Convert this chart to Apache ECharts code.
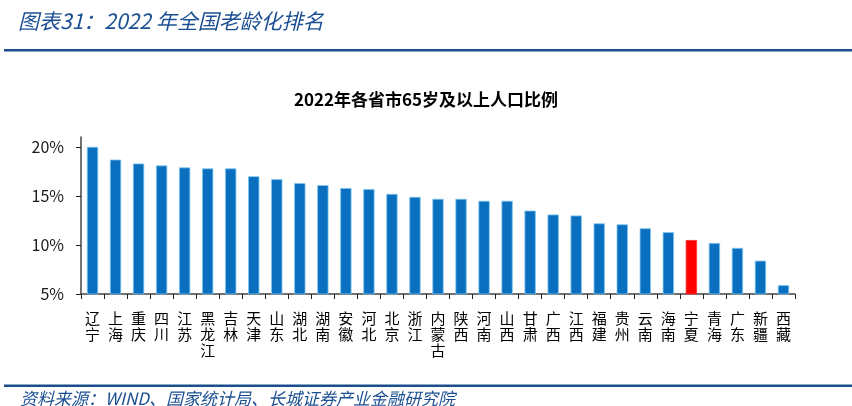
<!DOCTYPE html>
<html>
<head>
<meta charset="utf-8">
<script src="https://cdn.jsdelivr.net/npm/echarts@6/dist/echarts.min.js"></script>
<style>
html,body{margin:0;padding:0;background:#fff;}
#c{width:852px;height:406px;}
</style>
</head>
<body>
<div id="c"></div>
<script>
const provinces = ['辽宁','上海','重庆','四川','江苏','黑龙江','吉林','天津','山东','湖北','湖南','安徽','河北','北京','浙江','内蒙古','陕西','河南','山西','甘肃','广西','江西','福建','贵州','云南','海南','宁夏','青海','广东','新疆','西藏'];
const share65 = [20.0,18.7,18.3,18.1,17.9,17.8,17.8,17.0,16.7,16.3,16.1,15.8,15.7,15.2,14.9,14.7,14.7,14.5,14.5,13.5,13.1,13.0,12.2,12.1,11.7,11.3,10.5,10.2,9.7,8.4,5.9];
const highlight = '宁夏';
const yTicks = [5,10,15,20];

const FONT = "'Noto Sans CJK SC','Microsoft YaHei',sans-serif";
const BLUE = '#0a6fbf';
const chart = echarts.init(document.getElementById('c'));
chart.setOption({
  animation: false,
  backgroundColor: '#fff',
  title: [
    {text: '图表31：2022 年全国老龄化排名', left: 13, top: 6,
     textStyle: {fontFamily: FONT, fontSize: 21, fontWeight: 'normal', fontStyle: 'italic', color: '#1b4f93'}},
    {text: '2022年各省市65岁及以上人口比例', left: 'center', top: 86,
     textStyle: {fontFamily: FONT, fontSize: 17, fontWeight: 'bold', color: '#000'}},
    {text: '资料来源：WIND、国家统计局、长城证券产业金融研究院', left: 15, top: 385,
     textStyle: {fontFamily: FONT, fontSize: 17, fontWeight: 'normal', fontStyle: 'italic', color: '#1b4f93'}}
  ],
  graphic: [
    {type: 'rect', shape: {x: 4, y: 49, width: 848, height: 2.5}, style: {fill: '#1b4f8c'}},
    {type: 'rect', shape: {x: 4, y: 384.5, width: 848, height: 2.5}, style: {fill: '#1b4f8c'}}
  ],
  grid: {left: 81, right: 57, top: 137, bottom: 112},
  xAxis: {
    type: 'category',
    data: provinces,
    axisLine: {lineStyle: {color: '#444', width: 1.5}},
    axisTick: {show: true, length: 5, alignWithLabel: false, lineStyle: {color: '#222'}},
    axisLabel: {
      interval: 0, margin: 16, fontFamily: FONT, fontSize: 15, lineHeight: 16, color: '#000',
      formatter: v => v.split('').join('\n'), verticalAlign: 'top'
    }
  },
  yAxis: {
    type: 'value', min: 5, max: 21, interval: 5,
    splitLine: {show: false},
    axisLine: {show: true, lineStyle: {color: '#444', width: 1.5}},
    axisTick: {show: true, length: 5, customValues: yTicks, lineStyle: {color: '#222'}},
    axisLabel: {margin: 17, fontFamily: FONT, fontSize: 16, color: '#1a1a1a', customValues: yTicks,
      formatter: v => (v % 5 === 0 ? v + '%' : '')}
  },
  series: [{
    type: 'bar',
    barWidth: '49%',
    data: share65.map((v, i) => ({
      value: v,
      itemStyle: provinces[i] === highlight
        ? {color: '#ff0000', borderColor: '#ff3030', borderWidth: 0.8}
        : {color: BLUE, borderColor: '#7ec6f0', borderWidth: 0.8}
    }))
  }]
});
</script>
</body>
</html>
